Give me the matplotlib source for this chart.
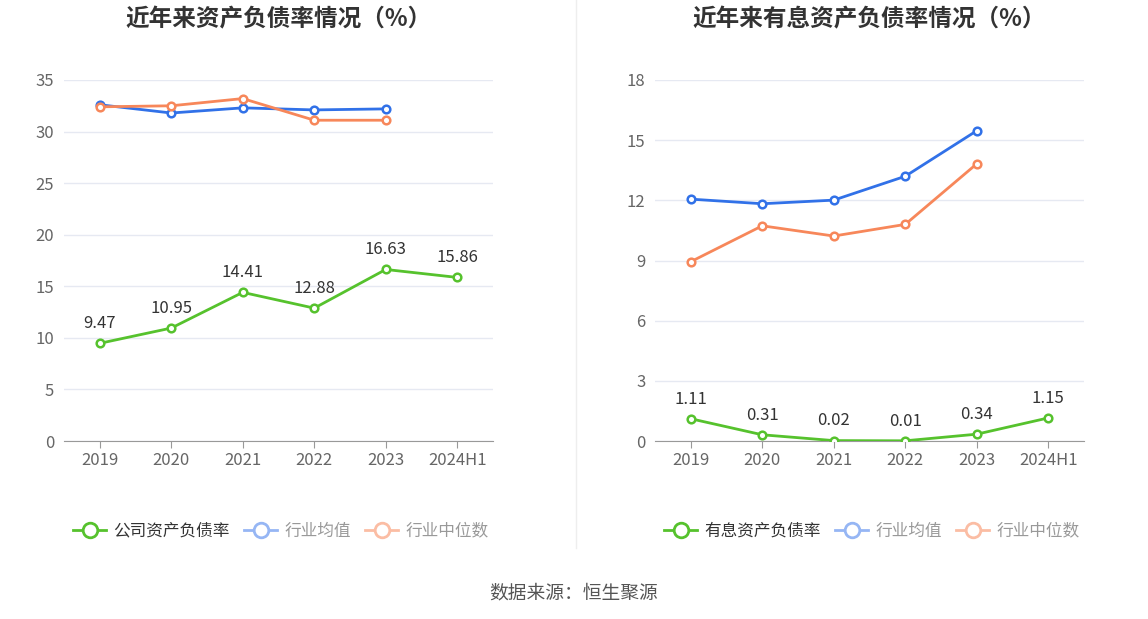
import matplotlib.pyplot as plt
from matplotlib.lines import Line2D
import numpy as np

plt.rcParams['font.family'] = ['Noto Sans CJK SC', 'DejaVu Sans']

years = ["2019", "2020", "2021", "2022", "2023", "2024H1"]

# left chart: 资产负债率
company_debt = [9.47, 10.95, 14.41, 12.88, 16.63, 15.86]
ind_avg_debt = [32.6, 31.8, 32.3, 32.1, 32.2]
ind_med_debt = [32.4, 32.5, 33.2, 31.1, 31.1]

# right chart: 有息资产负债率
company_int = [1.11, 0.31, 0.02, 0.01, 0.34, 1.15]
ind_avg_int = [12.06, 11.83, 12.01, 13.2, 15.47]
ind_med_int = [8.94, 10.73, 10.22, 10.8, 13.82]

GREEN = "#56c22d"
BLUE = "#3171e8"
ORANGE = "#f7875a"
GRID = "#e6e9f2"

fig = plt.figure(figsize=(11.48, 6.19), dpi=100)


def draw(rect, title, comp, avg, med, ymax, step, comp_name):
    ax = fig.add_axes(rect)
    x = np.arange(len(years))
    ax.set_xlim(-0.5, len(years) - 0.5)
    ax.set_ylim(0, ymax)
    ax.set_yticks(np.arange(0, ymax + 0.1, step))
    ax.grid(axis="y", color=GRID, lw=1)
    ax.set_axisbelow(True)
    for s in ["top", "right", "left"]:
        ax.spines[s].set_visible(False)
    ax.spines["bottom"].set_color("#999999")
    ax.tick_params(axis="y", length=0, labelcolor="#666666", labelsize=12, pad=7)
    ax.tick_params(axis="x", length=5, color="#999999", labelcolor="#666666",
                   labelsize=12, pad=3)
    ax.set_xticks(x)
    ax.set_xticklabels(years)

    mk = dict(marker="o", markersize=5.5, markerfacecolor="white", markeredgewidth=1.8)
    ax.plot(x[:len(avg)], avg, color=BLUE, lw=2, zorder=3, **mk)
    ax.plot(x[:len(med)], med, color=ORANGE, lw=2, zorder=3, **mk)
    ax.plot(x, comp, color=GREEN, lw=2, zorder=4, **mk)
    for xi, v in zip(x, comp):
        ax.annotate(f"{v:.2f}", (xi, v), xytext=(0, 8), textcoords="offset points",
                    ha="center", va="bottom", fontsize=12, color="#333333")

    ax.set_title(title, fontsize=17, fontweight="bold", color="#333333", pad=0,
                 y=1 + 54 / 361)

    handles = [
        Line2D([], [], color=GREEN, lw=2, marker="o", markersize=10.5,
               markerfacecolor="white", markeredgewidth=2),
        Line2D([], [], color="#96b6f4", lw=2, marker="o", markersize=10.5,
               markerfacecolor="white", markeredgewidth=2),
        Line2D([], [], color="#fbbda4", lw=2, marker="o", markersize=10.5,
               markerfacecolor="white", markeredgewidth=2),
    ]
    leg = ax.legend(handles, [comp_name, "行业均值", "行业中位数"], ncol=3,
                    loc="center", bbox_to_anchor=(0.505, -0.25), frameon=False,
                    fontsize=12, handlelength=2.0, columnspacing=0.85,
                    handletextpad=0.42)
    cols = ["#333333", "#999999", "#999999"]
    for t, c in zip(leg.get_texts(), cols):
        t.set_color(c)
    return ax


draw([64 / 1148, 1 - 441 / 619, 429 / 1148, 361 / 619], "近年来资产负债率情况（%）",
     company_debt, ind_avg_debt, ind_med_debt, 35, 5, "公司资产负债率")
draw([655 / 1148, 1 - 441 / 619, 429 / 1148, 361 / 619], "近年来有息资产负债率情况（%）",
     company_int, ind_avg_int, ind_med_int, 18, 3, "有息资产负债率")

# divider
fig.add_artist(Line2D([576 / 1148, 576 / 1148], [1 - 548 / 619, 1], color="#eeeeee", lw=1))

fig.text(0.5, 1 - 593 / 619, "数据来源：恒生聚源", ha="center", va="center",
         fontsize=13.5, color="#555555")

fig.savefig("out.png", dpi=100)
